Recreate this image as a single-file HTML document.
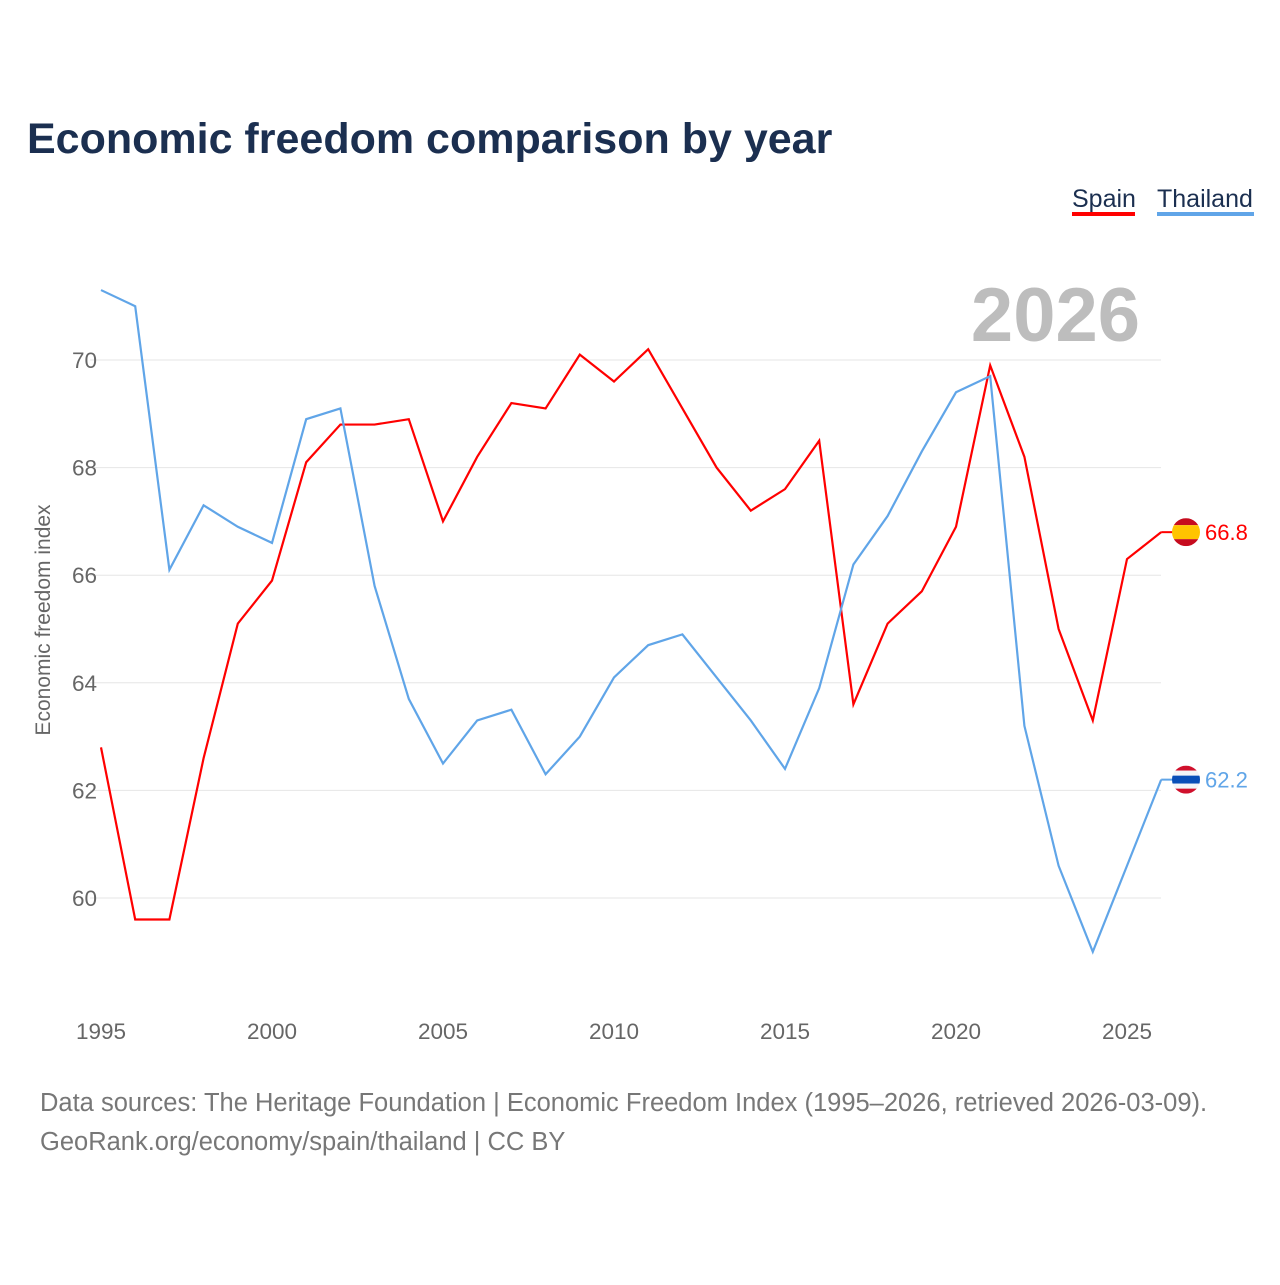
<!DOCTYPE html>
<html><head><meta charset="utf-8"><style>
body{margin:0;background:#fff;font-family:"Liberation Sans",sans-serif}
#wrap{position:relative;width:1280px;height:1280px}
</style></head><body>
<div id="wrap">
<svg id="chart" width="1280" height="1280">
<text x="27" y="153" font-size="43" font-weight="bold" fill="#1b2f50">Economic freedom comparison by year</text>
<g><text x="1072" y="207" font-size="25" fill="#1b2f50">Spain</text><rect x="1072" y="212" width="63" height="4" fill="#ff0000"/></g>
<g><text x="1157" y="207" font-size="25" fill="#1b2f50">Thailand</text><rect x="1157" y="212" width="97" height="4" fill="#60a5e8"/></g>
<text x="1140" y="341" font-size="76" font-weight="bold" fill="#bdbdbd" text-anchor="end">2026</text>
<text transform="translate(50,620) rotate(-90)" font-size="21" fill="#666" text-anchor="middle">Economic freedom index</text>
<g id="grid"></g><g id="yt"></g><g id="xt"></g><g id="lines"></g>
<text x="40" y="1111" font-size="25.5" fill="#777">Data sources: The Heritage Foundation | Economic Freedom Index (1995–2026, retrieved 2026-03-09).</text>
<text x="40" y="1150" font-size="25.5" fill="#777">GeoRank.org/economy/spain/thailand | CC BY</text>
</svg></div>
<script>
const years=[1995,1996,1997,1998,1999,2000,2001,2002,2003,2004,2005,2006,2007,2008,2009,2010,2011,2012,2013,2014,2015,2016,2017,2018,2019,2020,2021,2022,2023,2024,2025,2026];
const spain=[62.8,59.6,59.6,62.6,65.1,65.9,68.1,68.8,68.8,68.9,67.0,68.2,69.2,69.1,70.1,69.6,70.2,69.1,68.0,67.2,67.6,68.5,63.6,65.1,65.7,66.9,69.9,68.2,65.0,63.3,66.3,66.8];
const thailand=[71.3,71.0,66.1,67.3,66.9,66.6,68.9,69.1,65.8,63.7,62.5,63.3,63.5,62.3,63.0,64.1,64.7,64.9,64.1,63.3,62.4,63.9,66.2,67.1,68.3,69.4,69.7,63.2,60.6,59.0,60.6,62.2];
const yTicks=[60,62,64,66,68,70];
const xTicks=[1995,2000,2005,2010,2015,2020,2025];
const NS="http://www.w3.org/2000/svg";
const X=v=>101+(v-1995)*34.2, Y=v=>898-(v-60)*53.8;
function mk(t,a,p){const e=document.createElementNS(NS,t);for(const k in a)e.setAttribute(k,a[k]);document.getElementById(p).appendChild(e);return e;}
yTicks.forEach(v=>{
 const l=mk('line',{x1:90,x2:1161,y1:Y(v),y2:Y(v),stroke:'#e6e6e6'},'grid');
 
 
 const t=mk('text',{x:97,y:Y(v)+8,'font-size':22.5,fill:'#666','text-anchor':'end'},'yt');t.textContent=v;
 
 
});
xTicks.forEach(v=>{
 const t=mk('text',{x:X(v),y:1039,'font-size':22.5,fill:'#666','text-anchor':'middle'},'xt');t.textContent=v;
 
 
});
function series(d,c,name,flag){
 const p=mk('polyline',{points:d.map((v,i)=>X(years[i])+','+Y(v)).join(' '),fill:'none',stroke:c,'stroke-width':2.2},'lines');
 
 
 const last=d[d.length-1],y=Y(last),x=X(years[years.length-1]);
 mk('line',{x1:x,x2:x+14,y1:y,y2:y,stroke:c,'stroke-width':2},'lines');
 const g=mk('g',{},'lines');
 
 
 const cl=name+'clip';
 const cp=document.createElementNS(NS,'clipPath');cp.id=cl;const cc=document.createElementNS(NS,'circle');cc.setAttribute('cx',1186);cc.setAttribute('cy',y);cc.setAttribute('r',14);cp.appendChild(cc);g.appendChild(cp);
 flag.forEach(([h,col],i,a)=>{let off=a.slice(0,i).reduce((s,q)=>s+q[0],0);const r=document.createElementNS(NS,'rect');r.setAttribute('x',1172);r.setAttribute('y',y-14+off);r.setAttribute('width',28);r.setAttribute('height',h);r.setAttribute('fill',col);r.setAttribute('clip-path','url(#'+cl+')');g.appendChild(r);});
 const t=mk('text',{x:1205,y:y+8,'font-size':22,fill:c},'lines');t.textContent=last.toFixed(1);
 
 
}
series(spain,'#ff0000','spain',[[7,'#c60b1e'],[14,'#ffc400'],[7,'#c60b1e']]);
series(thailand,'#60a5e8','thailand',[[5,'#d0102c'],[5,'#f4f5f8'],[8,'#0a4fb8'],[5,'#f4f5f8'],[5,'#d0102c']]);
</script>
</body></html>
